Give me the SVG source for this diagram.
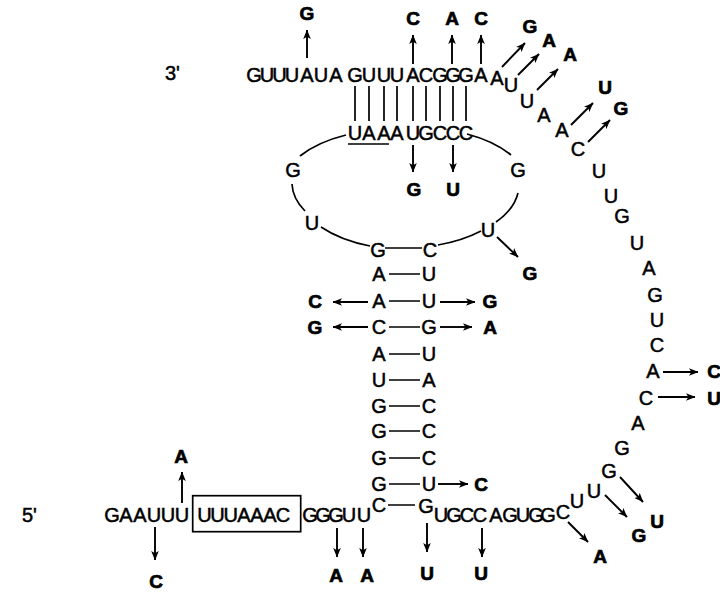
<svg xmlns="http://www.w3.org/2000/svg" width="720" height="592" viewBox="0 0 720 592">
  <style>
    .s { font-family: "Liberation Sans Narrow", "Liberation Sans", sans-serif; font-size: 20px; text-anchor: middle; fill: #000; stroke: #000; stroke-width: 0.5; }
    .e { font-family: "Liberation Sans Narrow", "Liberation Sans", sans-serif; font-size: 20px; fill: #000; stroke: #000; stroke-width: 0.5; }
    .b { font-family: "Liberation Sans", Arial, sans-serif; font-weight: bold; font-size: 19px; text-anchor: middle; fill: #000; stroke: #000; stroke-width: 0.7; }
    .ln { stroke: #000; stroke-width: 1.7; fill: none; }
    .ar { stroke: #000; stroke-width: 1.9; fill: none; marker-end: url(#head); }
  </style>
  <defs>
    <marker id="head" viewBox="0 0 10 8" refX="9.5" refY="4" markerWidth="9.5" markerHeight="7.6" markerUnits="userSpaceOnUse" orient="auto">
      <path d="M0,0 L10,4 L0,8 L2.5,4 Z" fill="#000"/>
    </marker>
  </defs>
  <rect width="720" height="592" fill="#fff"/>

  <!-- strand ends -->
  <g id="ends">
    <text class="e" x="165" y="80">3'</text>
    <text class="e" x="22" y="522">5'</text>
  </g>

  <!-- upper hairpin: 3' strand and its paired partner -->
  <g id="upper-duplex">
    <text class="s" x="254 267 279.5 292 307 321 336 355 369 384 397 413 426 440 453 466 481" y="82">GUUUAUAGUUUACGGGA</text>
    <text class="s" x="355 369 384 397 413 426 440 453 466" y="140">UAAAUGCCC</text>
    <path class="ln" d="M348,144 H389"/>
  </g>

  <!-- internal loop -->
  <g id="loop">
    <text class="s" x="293" y="177">G</text>
    <text class="s" x="312" y="230">U</text>
    <text class="s" x="378" y="257">G</text>
    <text class="s" x="430" y="257">C</text>
    <text class="s" x="488" y="237">U</text>
    <text class="s" x="518" y="177">G</text>
  </g>

  <!-- central stem -->
  <g id="stem">
    <text class="s" x="379" y="281">A</text><text class="s" x="429" y="281">U</text>
    <text class="s" x="379" y="308">A</text><text class="s" x="429" y="308">U</text>
    <text class="s" x="379" y="334">C</text><text class="s" x="429" y="334">G</text>
    <text class="s" x="379" y="361">A</text><text class="s" x="429" y="361">U</text>
    <text class="s" x="379" y="387">U</text><text class="s" x="429" y="387">A</text>
    <text class="s" x="379" y="413">G</text><text class="s" x="429" y="413">C</text>
    <text class="s" x="379" y="438">G</text><text class="s" x="429" y="438">C</text>
    <text class="s" x="379" y="465">G</text><text class="s" x="429" y="465">C</text>
    <text class="s" x="379" y="491">G</text><text class="s" x="429" y="491">U</text>
    <text class="s" x="379" y="512">C</text><text class="s" x="426" y="513">G</text>
  </g>

  <!-- 5' strand along the bottom -->
  <g id="lower-strand">
    <text class="s" x="112 126 140 154 168 182" y="522">GAAUUU</text>
    <rect class="ln" x="192.7" y="495.7" width="108" height="36"/>
    <text class="s" x="204.5 217.6 230.7 243.8 257 270 283" y="522">UUUAAAC</text>
    <text class="s" x="310 323 336 349 364" y="522">GGGUU</text>
    <text class="s" x="441 454 467 480 496 510 523 536 548" y="522">UGCCAGUGG</text>
  </g>

  <!-- single strand looping round the right side -->
  <g id="right-strand">
    <text class="s" x="497" y="85">A</text>
    <text class="s" x="511" y="92">U</text>
    <text class="s" x="527" y="108">U</text>
    <text class="s" x="544" y="122">A</text>
    <text class="s" x="562" y="137">A</text>
    <text class="s" x="578" y="156">C</text>
    <text class="s" x="599" y="178">U</text>
    <text class="s" x="611" y="203">U</text>
    <text class="s" x="622" y="223">G</text>
    <text class="s" x="637" y="250">U</text>
    <text class="s" x="649" y="275">A</text>
    <text class="s" x="655" y="302">G</text>
    <text class="s" x="657" y="327">U</text>
    <text class="s" x="657" y="352">C</text>
    <text class="s" x="653" y="378">A</text>
    <text class="s" x="646" y="405">C</text>
    <text class="s" x="638" y="430">A</text>
    <text class="s" x="622" y="455">G</text>
    <text class="s" x="609" y="478">G</text>
    <text class="s" x="594" y="498">U</text>
    <text class="s" x="577" y="508">U</text>
    <text class="s" x="563" y="519">C</text>
  </g>

  <!-- base substitutions -->
  <g id="substitutions">
    <text class="b" x="307" y="20">G</text>
    <text class="b" x="413" y="25">C</text>
    <text class="b" x="452" y="25">A</text>
    <text class="b" x="481" y="25">C</text>
    <text class="b" x="530" y="33">G</text>
    <text class="b" x="549" y="47">A</text>
    <text class="b" x="570" y="61">A</text>
    <text class="b" x="605" y="94">U</text>
    <text class="b" x="621" y="115">G</text>
    <text class="b" x="414" y="196">G</text>
    <text class="b" x="453" y="196">U</text>
    <text class="b" x="530" y="280">G</text>
    <text class="b" x="315" y="308">C</text>
    <text class="b" x="490" y="308">G</text>
    <text class="b" x="315" y="334">G</text>
    <text class="b" x="490" y="334">A</text>
    <text class="b" x="481" y="491">C</text>
    <text class="b" x="714" y="378">C</text>
    <text class="b" x="714" y="405">U</text>
    <text class="b" x="657" y="528">U</text>
    <text class="b" x="639" y="542">G</text>
    <text class="b" x="600" y="563">A</text>
    <text class="b" x="181" y="463">A</text>
    <text class="b" x="156" y="588">C</text>
    <text class="b" x="336" y="582">A</text>
    <text class="b" x="367" y="582">A</text>
    <text class="b" x="427" y="580">U</text>
    <text class="b" x="481" y="580">U</text>
  </g>

  <g id="connectors">
    <!-- base-pair bonds, upper duplex -->
    <path class="ln" d="M355,86 V121 M369,86 V121 M384,86 V121 M397,86 V121 M413,86 V121 M426,86 V121 M440,86 V121 M453,86 V121 M466,86 V121"/>
    <!-- loop backbone -->
    <path class="ln" d="M346,135 A111,60 0 0 0 300,156"/>
    <path class="ln" d="M292,184 A111,60 0 0 0 305,211"/>
    <path class="ln" d="M321,227 A111,60 0 0 0 370,246"/>
    <path class="ln" d="M438,245 A111,60 0 0 0 481,231"/>
    <path class="ln" d="M496,222 A111,60 0 0 0 518,193"/>
    <path class="ln" d="M511,155 A111,60 0 0 0 467,134"/>
    <!-- base-pair bonds, stem -->
    <path class="ln" d="M385,248 H422 M389,274 H420 M389,301 H420 M389,327 H420 M389,354 H420 M389,380 H420 M389,406 H420 M389,431 H420 M389,458 H420 M389,484 H420 M388,505 H415"/>
    <!-- substitution arrows -->
    <path class="ar" d="M307,58 V30"/>
    <path class="ar" d="M413,64 V35"/>
    <path class="ar" d="M452,64 V35"/>
    <path class="ar" d="M481,64 V35"/>
    <path class="ar" d="M502,67 L525,43"/>
    <path class="ar" d="M518,75 L539,54"/>
    <path class="ar" d="M537,90 L558,69"/>
    <path class="ar" d="M571,125 L593,103"/>
    <path class="ar" d="M588,142 L610,120"/>
    <path class="ar" d="M413,145 V172"/>
    <path class="ar" d="M453,145 V172"/>
    <path class="ar" d="M497,237 L518,257"/>
    <path class="ar" d="M368,302 H333"/>
    <path class="ar" d="M440,302 H475"/>
    <path class="ar" d="M368,327 H333"/>
    <path class="ar" d="M440,327 H472"/>
    <path class="ar" d="M438,484 H468"/>
    <path class="ar" d="M663,372 H698"/>
    <path class="ar" d="M658,397 H695"/>
    <path class="ar" d="M620,477 L643,502"/>
    <path class="ar" d="M605,495 L627,517"/>
    <path class="ar" d="M568,522 L588,542"/>
    <path class="ar" d="M182,503 V472"/>
    <path class="ar" d="M155,527 V560"/>
    <path class="ar" d="M337,528 V557"/>
    <path class="ar" d="M363,528 V557"/>
    <path class="ar" d="M427,523 V552"/>
    <path class="ar" d="M482,528 V557"/>
  </g>
</svg>
